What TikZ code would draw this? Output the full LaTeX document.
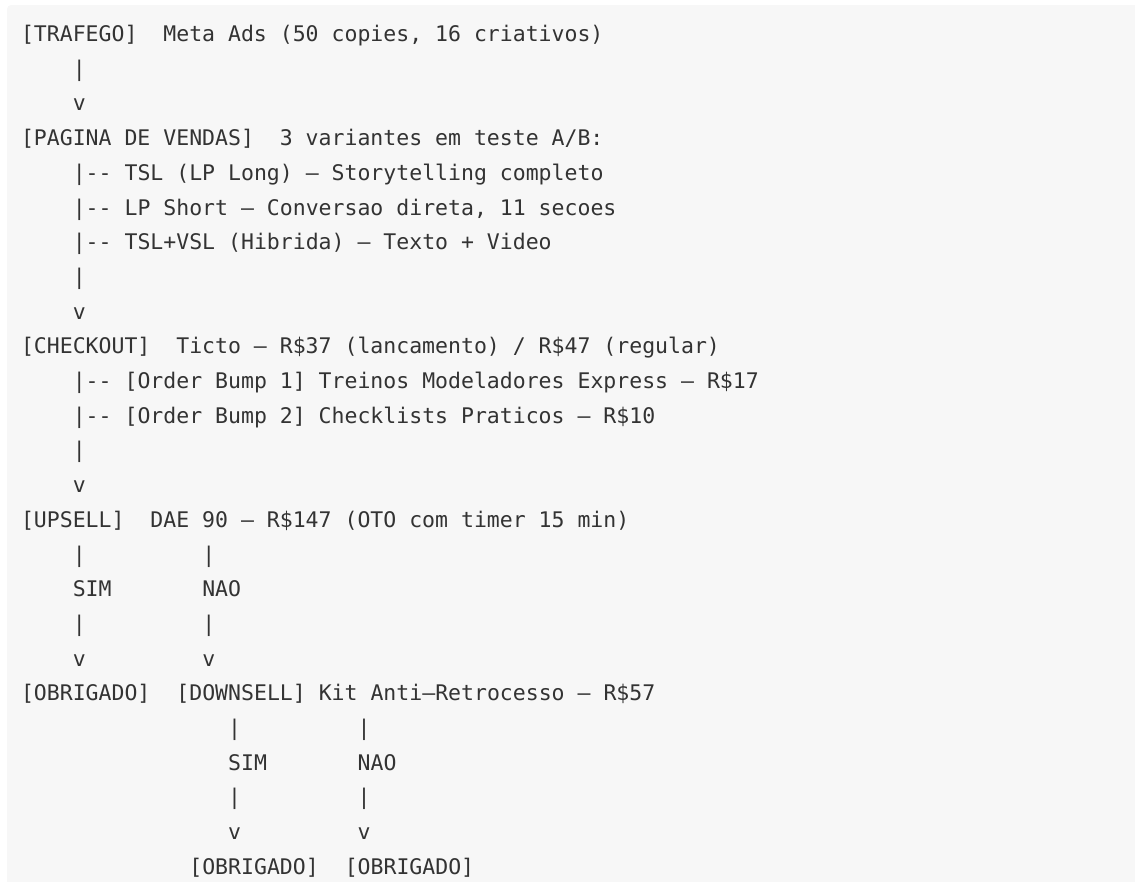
\documentclass[tikz,border=0pt]{standalone}
\usepackage{fontspec}
\setmonofont{DejaVu Sans Mono}
\usepackage{tikz}
\usetikzlibrary{positioning}
\definecolor{CodeBack}{RGB}{247,247,247}
\definecolor{CodeText}{RGB}{51,51,51}
\newcommand{\codefont}{\ttfamily\fontsize{21.5}{34.7}\selectfont\frenchspacing}
\tikzset{
  codeline/.style={anchor=base west, inner sep=0pt, outer sep=0pt, font=\codefont, text=CodeText},
  codebox/.style={fill=CodeBack, rounded corners=4pt}
}

\begin{document}
\begin{tikzpicture}[x=12.95pt, y=-34.7pt]
            \useasboundingbox (0pt,0pt) rectangle (1135pt,-881pt);
            % Code block background
            \fill[codebox] (7pt,-5pt) rectangle (1145pt,-891pt);

            \begin{scope}[shift={(21pt,-41.5pt)}]
            % Traffic
            \node[codeline] (trafego) at (0,0) {[TRAFEGO]~~Meta Ads (50 copies, 16 criativos)};
            \node[codeline] (pipeA) at (4,1) {|};
            \node[codeline] (arrowA) at (4,2) {v};

            % Sales page variants
            \node[codeline] (vendas) at (0,3) {[PAGINA DE VENDAS]~~3 variantes em teste A/B:};
            \node[codeline] (tsl) at (4,4) {|-{}- TSL (LP Long) — Storytelling completo};
            \node[codeline] (lpshort) at (4,5) {|-{}- LP Short — Conversao direta, 11 secoes};
            \node[codeline] (hibrida) at (4,6) {|-{}- TSL+VSL (Hibrida) — Texto + Video};
            \node[codeline] (pipeB) at (4,7) {|};
            \node[codeline] (arrowB) at (4,8) {v};

            % Checkout and order bumps
            \node[codeline] (checkout) at (0,9) {[CHECKOUT]~~Ticto — R\$37 (lancamento) / R\$47 (regular)};
            \node[codeline] (bumpA) at (4,10) {|-{}- [Order Bump 1] Treinos Modeladores Express — R\$17};
            \node[codeline] (bumpB) at (4,11) {|-{}- [Order Bump 2] Checklists Praticos — R\$10};
            \node[codeline] (pipeC) at (4,12) {|};
            \node[codeline] (arrowC) at (4,13) {v};

            % Upsell
            \node[codeline] (upsell) at (0,14) {[UPSELL]~~DAE 90 — R\$147 (OTO com timer 15 min)};
            \node[codeline] (upSimA) at (4,15) {|};
            \node[codeline] (upNaoA) at (14,15) {|};
            \node[codeline] (upSim) at (4,16) {SIM};
            \node[codeline] (upNao) at (14,16) {NAO};
            \node[codeline] (upSimB) at (4,17) {|};
            \node[codeline] (upNaoB) at (14,17) {|};
            \node[codeline] (upSimV) at (4,18) {v};
            \node[codeline] (upNaoV) at (14,18) {v};

            % Thank you page and downsell
            \node[codeline] (obrigadoA) at (0,19) {[OBRIGADO]};
            \node[codeline] (downsell) at (12,19) {[DOWNSELL] Kit Anti–Retrocesso — R\$57};
            \node[codeline] (dnSimA) at (16,20) {|};
            \node[codeline] (dnNaoA) at (26,20) {|};
            \node[codeline] (dnSim) at (16,21) {SIM};
            \node[codeline] (dnNao) at (26,21) {NAO};
            \node[codeline] (dnSimB) at (16,22) {|};
            \node[codeline] (dnNaoB) at (26,22) {|};
            \node[codeline] (dnSimV) at (16,23) {v};
            \node[codeline] (dnNaoV) at (26,23) {v};
            \node[codeline] (obrigadoB) at (13,24) {[OBRIGADO]};
            \node[codeline] (obrigadoC) at (25,24) {[OBRIGADO]};
            \end{scope}
        \end{tikzpicture}
\end{document}
